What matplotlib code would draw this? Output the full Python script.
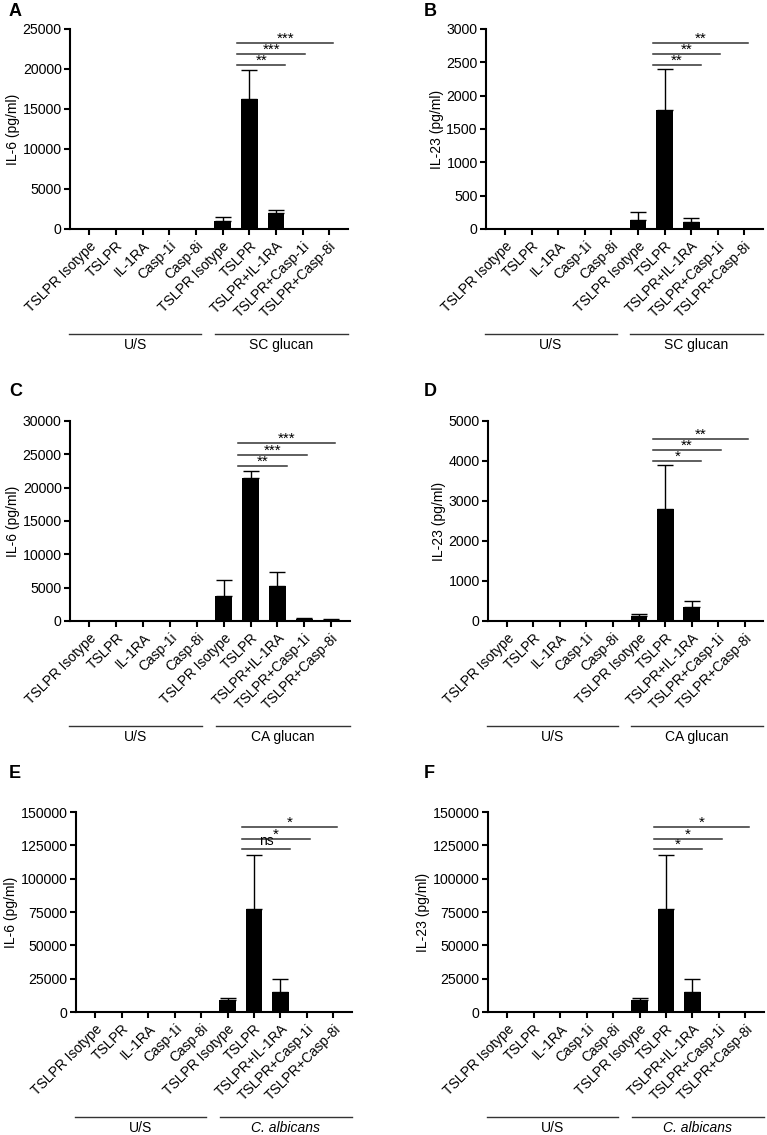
import numpy as np
import matplotlib.pyplot as plt
from matplotlib.transforms import blended_transform_factory

plt.rcParams['font.family'] = ['Liberation Sans', 'DejaVu Sans']

cats = ['TSLPR Isotype', 'TSLPR', 'IL-1RA', 'Casp-1i', 'Casp-8i',
        'TSLPR Isotype', 'TSLPR', 'TSLPR+IL-1RA', 'TSLPR+Casp-1i', 'TSLPR+Casp-8i']

# means and upper error for each panel
a_mean = [0, 0, 0, 0, 0, 1000, 16300, 2000, 0, 0]
a_err = [0, 0, 0, 0, 0, 500, 3600, 400, 0, 0]
b_mean = [0, 0, 0, 0, 0, 130, 1780, 100, 0, 0]
b_err = [0, 0, 0, 0, 0, 130, 620, 60, 0, 0]
c_mean = [0, 0, 0, 0, 0, 3800, 21500, 5200, 250, 200]
c_err = [0, 0, 0, 0, 0, 2400, 1000, 2200, 150, 120]
d_mean = [0, 0, 0, 0, 0, 120, 2800, 360, 0, 0]
d_err = [0, 0, 0, 0, 0, 50, 1100, 130, 0, 0]
e_mean = [0, 0, 0, 0, 0, 9000, 77500, 15000, 0, 0]
e_err = [0, 0, 0, 0, 0, 1500, 40000, 9500, 0, 0]
f_mean = [0, 0, 0, 0, 0, 9000, 77500, 15000, 0, 0]
f_err = [0, 0, 0, 0, 0, 1500, 40000, 9500, 0, 0]

a_sig = ['**', '***', '***']
b_sig = ['**', '**', '**']
c_sig = ['**', '***', '***']
d_sig = ['*', '**', '**']
e_sig = ['ns', '*', '*']
f_sig = ['*', '*', '*']

# heights of the comparison lines as fraction of ymax
a_lvl = [0.82, 0.875, 0.93]
c_lvl = [0.775, 0.83, 0.89]
d_lvl = [0.80, 0.855, 0.91]
e_lvl = [0.815, 0.865, 0.925]

groups_ab = ['U/S', 'SC glucan']
groups_cd = ['U/S', 'CA glucan']
groups_ef = ['U/S', 'C. albicans']


def panel(rect, letter, lpos, mean, err, ymax, step, ylabel, sig, lvl, groups, italic=False):
    W, H = 767., 1135.
    l, r, t, b = rect
    ax = fig.add_axes([l / W, 1 - b / H, (r - l) / W, (b - t) / H])
    x = np.arange(len(cats))
    ax.bar(x, mean, width=0.63, color='black')
    ax.errorbar(x, mean, yerr=[np.zeros(len(x)), err], fmt='none', ecolor='black',
                elinewidth=1, capsize=5.5, capthick=1)
    ax.set_xlim(-0.72, 9.7)
    ax.set_ylim(0, ymax)
    ax.set_yticks(np.arange(0, ymax + 1, step))
    ax.set_xticks(x)
    ax.set_xticklabels(cats, rotation=45, ha='right', rotation_mode='anchor', fontsize=10)
    ax.tick_params(axis='y', labelsize=10.2, width=1.5, length=4, pad=2)
    ax.tick_params(axis='x', width=1.5, length=4, pad=3)
    ax.set_ylabel(ylabel, fontsize=10, labelpad=2)
    for s in ['top', 'right']:
        ax.spines[s].set_visible(False)
    for s in ['left', 'bottom']:
        ax.spines[s].set_linewidth(1.5)

    ends = [7.35, 8.1, 9.15]
    for lab, lv, e in zip(sig, lvl, ends):
        yy = lv * ymax
        ax.plot([5.55, e], [yy, yy], color='#333333', lw=1.1, clip_on=False)
        if lab == 'ns':
            ax.text((5.55 + e) / 2, yy + 0.005 * ymax, lab, ha='center', va='bottom', fontsize=10)
        else:
            ax.text((5.55 + e) / 2, yy - 0.012 * ymax, lab, ha='center', va='bottom', fontsize=11)

    tr = blended_transform_factory(ax.transData, ax.transAxes)
    ax.plot([-0.75, 4.2], [-0.525, -0.525], color='#333333', lw=1, transform=tr, clip_on=False)
    ax.plot([4.7, 9.7], [-0.525, -0.525], color='#333333', lw=1, transform=tr, clip_on=False)
    ax.text(1.72, -0.545, groups[0], transform=tr, ha='center', va='top', fontsize=10)
    ax.text(7.2, -0.545, groups[1], transform=tr, ha='center', va='top', fontsize=10,
            style='italic' if italic else 'normal')

    fig.text(lpos[0] / W, 1 - lpos[1] / H, letter,
             fontsize=13, fontweight='bold', va='center', ha='left')
    return ax


fig = plt.figure(figsize=(7.67, 11.35), dpi=100)
panel((70, 348, 29, 229), 'A', (9, 11), a_mean, a_err, 25000, 5000, 'IL-6 (pg/ml)', a_sig, a_lvl, groups_ab)
panel((486, 763, 29, 229), 'B', (424, 11), b_mean, b_err, 3000, 500, 'IL-23 (pg/ml)', b_sig, a_lvl, groups_ab)
panel((70, 350, 421, 621), 'C', (9, 392), c_mean, c_err, 30000, 5000, 'IL-6 (pg/ml)', c_sig, c_lvl, groups_cd)
panel((488, 763, 421, 621), 'D', (424, 392), d_mean, d_err, 5000, 1000, 'IL-23 (pg/ml)', d_sig, d_lvl, groups_cd)
panel((76, 352, 812, 1012), 'E', (9, 773), e_mean, e_err, 150000, 25000, 'IL-6 (pg/ml)', e_sig, e_lvl, groups_ef, italic=True)
panel((488, 764, 812, 1012), 'F', (424, 773), f_mean, f_err, 150000, 25000, 'IL-23 (pg/ml)', f_sig, e_lvl, groups_ef, italic=True)

plt.savefig('out.png', dpi=100)
